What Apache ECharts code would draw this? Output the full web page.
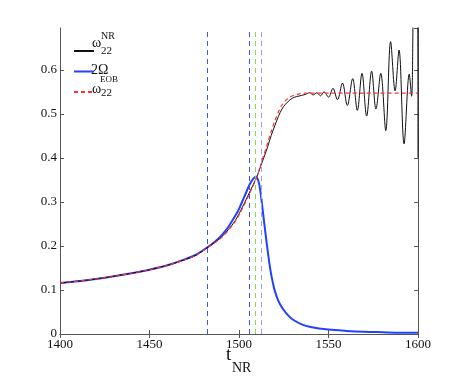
<!DOCTYPE html>
<html><head><meta charset="utf-8">
<script src="https://cdn.jsdelivr.net/npm/echarts@6/dist/echarts.min.js"></script>
<style>html,body{margin:0;padding:0;background:#fff}#c{width:463px;height:377px}</style>
</head><body><div id="c"></div>
<script>
// ---- data ----
const nrT = [1400,1410,1420,1430,1440,1450,1460,1470,1476,1482,1486,1490,1494,1498,1502,1505,1508,1510,1512,1514,1516,1518,1520,1522,1524,1526,1528,1530,1532,1535,1537,1539.5,1541.5,1543.5,1545.5,1547.5,1550,1552.5,1555,1557.8,1560.5,1563.5,1566.1,1568.7,1571.3,1574.1,1576.5,1579.2,1582,1584.7,1587.2,1589.4,1592.2,1595.1,1596.4,1597.4,1598.6,1599.8,1600];
const nrV = [0.116,0.120,0.125,0.131,0.138,0.146,0.156,0.169,0.179,0.195,0.207,0.219,0.237,0.258,0.289,0.314,0.340,0.357,0.380,0.402,0.425,0.451,0.473,0.494,0.511,0.522,0.530,0.536,0.539,0.542,0.544,0.548,0.543,0.548,0.541,0.550,0.538,0.558,0.532,0.570,0.519,0.580,0.508,0.592,0.495,0.597,0.511,0.592,0.462,0.664,0.552,0.645,0.432,0.590,0.540,0.760,0.950,0.760,0.400];

const omT = [1400,1410,1420,1430,1440,1450,1460,1470,1476,1482,1486,1490,1494,1498,1500,1503,1506,1508,1509.5,1511,1512,1513,1514,1515,1516,1517,1518,1519,1520,1522,1524,1526,1528,1530,1535,1540,1550,1560,1570,1580,1590,1600];
const omV = [0.116,0.120,0.125,0.131,0.138,0.146,0.156,0.170,0.180,0.196,0.208,0.223,0.243,0.269,0.284,0.312,0.340,0.353,0.358,0.345,0.322,0.290,0.255,0.222,0.190,0.160,0.135,0.115,0.098,0.075,0.060,0.049,0.040,0.033,0.022,0.016,0.010,0.007,0.005,0.004,0.003,0.003];

const eobT = [1400,1410,1420,1430,1440,1450,1460,1470,1476,1482,1486,1490,1494,1498,1502,1505,1508,1510,1512,1514,1516,1518,1520,1522,1524,1526,1528,1530,1533,1537,1550,1575,1600];
const eobV = [0.116,0.120,0.125,0.131,0.138,0.146,0.156,0.169,0.179,0.195,0.206,0.218,0.235,0.256,0.286,0.311,0.338,0.357,0.383,0.408,0.434,0.460,0.484,0.504,0.520,0.530,0.537,0.541,0.545,0.547,0.547,0.547,0.547];

const vLineT = [1482.2, 1505.8, 1509.1, 1512.3];
const vLineColors = ['#3f52e0','#3f52e0','#86dd50','#97a2f5'];

const xTicks = {min:1400, max:1600, step:50};
const yTicks = {min:0, max:0.695, step:0.1};

// ---- chart ----
const zip = (a,b) => a.map((t,i)=>[t,b[i]]);
const serif = "'Liberation Serif', 'Times New Roman', serif";
const axColor = '#555';
const chart = echarts.init(document.getElementById('c'), null, {renderer:'canvas'});
const baseX = {type:'value', min:xTicks.min, max:xTicks.max, interval:xTicks.step,
  axisLine:{lineStyle:{color:axColor,width:1}}, splitLine:{show:false},
  axisTick:{inside:true,length:4,lineStyle:{color:axColor}}};
const baseY = {type:'value', min:yTicks.min, max:yTicks.max, interval:yTicks.step,
  axisLine:{show:true,lineStyle:{color:axColor,width:1}}, splitLine:{show:false},
  axisTick:{inside:true,length:4,lineStyle:{color:axColor}}};
const yFmt = v => Math.abs(v*10-Math.round(v*10))<1e-6 ? (v===0?'0':v.toFixed(1)) : '';

chart.setOption({
  animation:false,
  backgroundColor:'#fff',
  grid:{left:60, top:28, width:358, height:306},
  xAxis:[
    Object.assign({}, baseX, {position:'bottom', axisLabel:{color:'#111', fontFamily:serif, fontSize:13, margin:4, formatter:v=>String(v)}}),
    Object.assign({}, baseX, {position:'top', axisLabel:{show:false}})
  ],
  yAxis:[
    Object.assign({}, baseY, {position:'left', axisLabel:{color:'#111', fontFamily:serif, fontSize:13, margin:3, formatter:yFmt, showMaxLabel:false}}),
    Object.assign({}, baseY, {position:'right', axisLabel:{show:false}})
  ],
  legend:{orient:'vertical', left:68, top:41, itemWidth:20, itemHeight:10, itemGap:11.5,
    itemStyle:{color:'transparent', borderColor:'transparent', borderWidth:0, opacity:0},
    formatter:()=>'', data:['NR','Omega','EOB']},
  series:[
    {name:'Omega', type:'line', data:zip(omT,omV), smooth:0.3, symbol:'none',
      lineStyle:{color:'#2341ff', width:2}, itemStyle:{color:'#2341ff'}, z:3,
      markLine:{silent:true, symbol:'none', label:{show:false},
        data: vLineT.map((t,i)=>({xAxis:t, lineStyle:{color:vLineColors[i], type:[5,4], width:1}}))}},
    {name:'NR', type:'line', data:zip(nrT,nrV), smooth:0.35, symbol:'none',
      lineStyle:{color:'#111', width:1}, itemStyle:{color:'#111'}, z:4},
    {name:'EOB', type:'line', data:zip(eobT,eobV), smooth:0.3, symbol:'none',
      lineStyle:{color:'#ff3030', width:1.2, type:[4,3]}, itemStyle:{color:'#ff3030'}, z:5}
  ],
  graphic:[
    {type:'text', left:92, top:36, style:{text:'ω', font:'14px '+serif, fill:'#111'}},
    {type:'text', left:101, top:31, style:{text:'NR', font:'10px '+serif, fill:'#111'}},
    {type:'text', left:101, top:46, style:{text:'22', font:'11px '+serif, fill:'#111'}},
    {type:'text', left:91, top:63, style:{text:'2Ω', font:'14px '+serif, fill:'#111'}},
    {type:'text', left:92, top:82, style:{text:'ω', font:'14px '+serif, fill:'#111'}},
    {type:'text', left:100, top:75, style:{text:'EOB', font:'9px '+serif, fill:'#111'}},
    {type:'text', left:101, top:88, style:{text:'22', font:'11px '+serif, fill:'#111'}},
    {type:'text', left:226, top:346, style:{text:'t', font:'19px '+serif, fill:'#111'}},
    {type:'text', left:232, top:361, style:{text:'NR', font:'14px '+serif, fill:'#111'}}
  ]
});
</script></body></html>
